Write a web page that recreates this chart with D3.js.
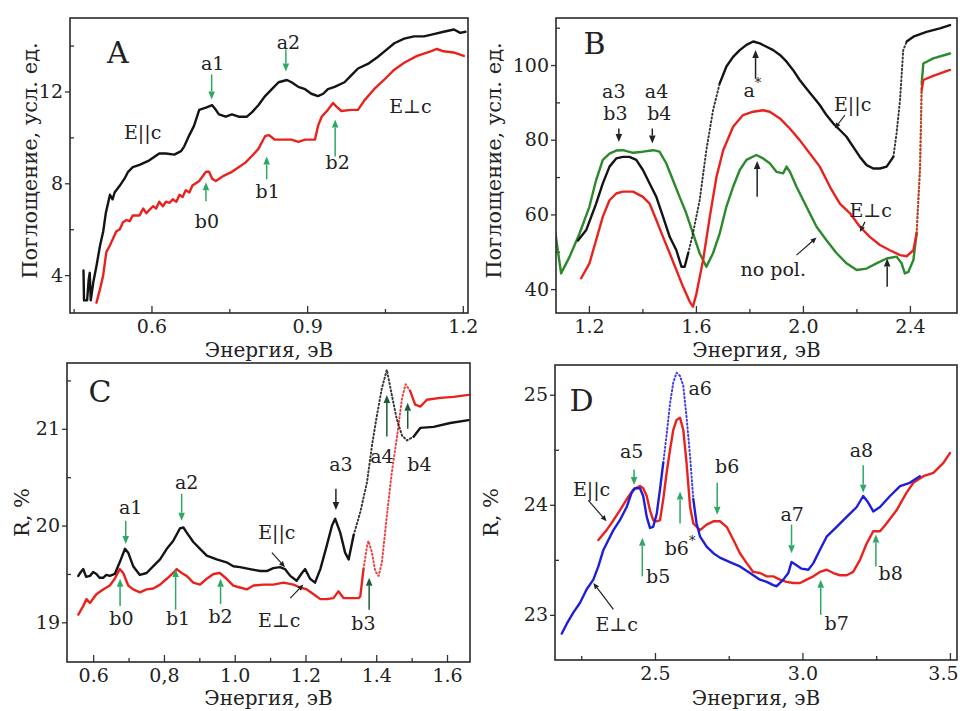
<!DOCTYPE html>
<html><head><meta charset="utf-8">
<script src="https://cdn.jsdelivr.net/npm/d3@7"></script>
<style>
body{margin:0;background:#fff}
svg{display:block}
svg text{font-family:"DejaVu Serif","Liberation Serif",serif;fill:#222}
</style>
</head><body>
<svg id="fig" width="960" height="711"></svg>
<script>
// ---------- Panel A: absorption, low energy ----------
const absA_par = [[0.469,4.2],[0.470,2.9],[0.476,2.9],[0.479,3.8],[0.481,4.1],[0.483,2.9],[0.488,3.7],[0.494,4.4],[0.501,5.3],[0.507,5.9],[0.512,6.7],[0.520,7.5],[0.525,7.3],[0.529,7.6],[0.539,7.9],[0.548,8.2],[0.555,8.5],[0.564,8.7],[0.577,8.8],[0.596,9.0],[0.615,9.3],[0.628,9.3],[0.644,9.25],[0.657,9.4],[0.663,9.6],[0.673,10.1],[0.682,10.5],[0.692,11.2],[0.705,11.3],[0.717,11.4],[0.724,11.2],[0.730,11.0],[0.743,10.9],[0.755,11.0],[0.768,10.9],[0.784,10.9],[0.794,11.1],[0.806,11.4],[0.819,11.8],[0.832,12.1],[0.845,12.4],[0.861,12.5],[0.870,12.4],[0.883,12.2],[0.896,12.1],[0.908,11.9],[0.921,11.8],[0.931,11.9],[0.940,12.1],[0.953,12.2],[0.972,12.4],[0.985,12.7],[0.998,13.0],[1.017,13.2],[1.036,13.5],[1.052,13.8],[1.068,14.1],[1.087,14.3],[1.106,14.4],[1.125,14.4],[1.144,14.5],[1.163,14.6],[1.183,14.7],[1.195,14.55],[1.205,14.6]];
const absA_perp = [[0.494,2.8],[0.501,3.4],[0.507,4.0],[0.513,5.0],[0.520,5.3],[0.526,5.6],[0.532,5.9],[0.539,6.0],[0.545,6.3],[0.552,6.4],[0.558,6.35],[0.564,6.6],[0.577,6.6],[0.584,6.9],[0.590,6.7],[0.603,7.0],[0.609,6.9],[0.615,7.2],[0.622,7.0],[0.628,7.2],[0.635,7.15],[0.641,7.3],[0.648,7.2],[0.654,7.5],[0.660,7.4],[0.666,7.7],[0.673,7.6],[0.679,7.9],[0.692,8.1],[0.705,8.5],[0.711,8.5],[0.717,8.2],[0.724,8.1],[0.737,8.3],[0.755,8.5],[0.768,8.7],[0.781,8.9],[0.794,9.2],[0.806,9.5],[0.819,10.05],[0.826,10.1],[0.838,9.9],[0.857,9.9],[0.870,9.9],[0.883,9.8],[0.896,9.9],[0.915,9.9],[0.921,10.5],[0.928,10.9],[0.940,11.2],[0.950,11.5],[0.956,11.35],[0.966,11.15],[0.985,11.2],[0.998,11.2],[1.010,11.6],[1.029,12.1],[1.048,12.5],[1.068,12.95],[1.087,13.25],[1.112,13.55],[1.138,13.75],[1.150,13.85],[1.163,13.75],[1.182,13.7],[1.202,13.55]];
const xTicksA = [0.6,0.9,1.2], xMinorA = [0.45,0.75,1.05];
const yTicksA = [4,8,12], yMinorA = [6,10,14];

// ---------- Panel B: absorption, high energy ----------
const absB_par = [[1.159,53],[1.190,55.8],[1.227,62.9],[1.252,68.3],[1.277,72.8],[1.302,75],[1.327,75.4],[1.352,75.4],[1.377,74.6],[1.402,71.9],[1.427,68.3],[1.452,64.7],[1.477,59.4],[1.502,54],[1.527,50.4],[1.546,46],[1.558,46],[1.571,49.6],[1.589,54.9],[1.614,63.8],[1.639,77.2],[1.664,87.9],[1.689,95.1],[1.714,99.6],[1.739,102.2],[1.764,104],[1.789,105.4],[1.814,106.3],[1.839,105.8],[1.864,104.9],[1.889,104],[1.914,102.7],[1.939,100.9],[1.963,98.7],[1.988,96],[2.013,93.75],[2.038,91.5],[2.063,89.3],[2.088,86.6],[2.113,84.4],[2.138,82.6],[2.163,80.8],[2.188,78.1],[2.213,75.4],[2.238,73.2],[2.263,72.3],[2.288,72.3],[2.313,72.8],[2.338,75.4],[2.350,81.7],[2.363,90.6],[2.375,104],[2.388,106.3],[2.413,107.6],[2.462,108.9],[2.512,109.8],[2.550,110.7]];
const absB_perp = [[1.171,42.9],[1.202,46.9],[1.227,53.1],[1.252,59.4],[1.277,63.8],[1.302,65.6],[1.327,66.1],[1.365,66.1],[1.402,64.7],[1.427,62.9],[1.452,58.5],[1.477,54],[1.502,49.6],[1.527,45.1],[1.552,40.6],[1.577,36.6],[1.589,35.3],[1.602,38.8],[1.627,47.8],[1.652,59.4],[1.677,70.1],[1.702,77.2],[1.739,83.5],[1.776,86.6],[1.814,87.5],[1.851,87.9],[1.876,87.5],[1.914,85.7],[1.951,83],[1.988,79.9],[2.026,76.3],[2.063,72.8],[2.101,67.4],[2.138,62.9],[2.176,60.3],[2.213,56.7],[2.250,54],[2.288,51.8],[2.325,50.4],[2.363,49.1],[2.388,48.8],[2.413,50.4],[2.425,54.9],[2.438,72.8],[2.444,93.3],[2.450,96],[2.487,97.1],[2.550,98.7]];
const absB_nopol = [[1.075,54.9],[1.096,44.2],[1.128,48.7],[1.165,54.9],[1.202,62.1],[1.227,69.2],[1.252,74.6],[1.277,76.3],[1.302,77.1],[1.327,77.2],[1.365,76.5],[1.402,76.8],[1.440,77.2],[1.464,76.8],[1.489,73.7],[1.514,69.2],[1.539,64.7],[1.564,60.3],[1.589,54.9],[1.614,49.6],[1.639,46.0],[1.664,49.6],[1.689,54.9],[1.714,62.1],[1.739,67.4],[1.764,71.9],[1.789,74.6],[1.826,75.9],[1.851,75.0],[1.876,73.7],[1.901,71.4],[1.926,71.0],[1.939,72.8],[1.951,71.5],[1.976,67.4],[2.013,62.1],[2.051,56.7],[2.088,53.1],[2.126,49.6],[2.163,46.9],[2.201,45.1],[2.238,45.5],[2.275,46.9],[2.313,48.2],[2.350,48.7],[2.369,46.9],[2.381,44.2],[2.394,44.6],[2.413,47.8],[2.425,54.9],[2.438,72.8],[2.444,95.1],[2.450,100.4],[2.487,101.8],[2.550,103.1]];
const xTicksB = [1.2,1.6,2.0,2.4], xMinorB = [1.4,1.8,2.2];
const yTicksB = [40,60,80,100], yMinorB = [50,70,90,110];

// ---------- Panel C: reflectance, low energy ----------
const reflC_par = [[0.558,19.48],[0.565,19.52],[0.572,19.55],[0.580,19.47],[0.591,19.48],[0.600,19.52],[0.609,19.50],[0.618,19.46],[0.628,19.46],[0.637,19.49],[0.647,19.48],[0.661,19.50],[0.675,19.62],[0.690,19.76],[0.699,19.72],[0.713,19.58],[0.732,19.49],[0.751,19.51],[0.770,19.58],[0.789,19.65],[0.808,19.76],[0.826,19.84],[0.845,19.97],[0.855,19.98],[0.864,19.93],[0.883,19.83],[0.902,19.76],[0.921,19.69],[0.949,19.65],[0.977,19.62],[0.996,19.58],[1.015,19.57],[1.043,19.55],[1.072,19.53],[1.091,19.53],[1.109,19.56],[1.128,19.57],[1.142,19.55],[1.157,19.48],[1.175,19.43],[1.190,19.51],[1.199,19.55],[1.213,19.45],[1.227,19.41],[1.242,19.55],[1.260,19.79],[1.275,20.0],[1.284,20.07],[1.298,19.93],[1.312,19.72],[1.322,19.65],[1.336,19.90],[1.355,20.14],[1.374,20.45],[1.388,20.83],[1.402,21.14],[1.416,21.42],[1.430,21.61],[1.444,21.35],[1.458,21.10],[1.473,20.93],[1.487,20.88],[1.506,20.92],[1.525,21.01],[1.562,21.02],[1.609,21.06],[1.661,21.09]];
const reflC_perp = [[0.558,19.08],[0.572,19.17],[0.581,19.24],[0.591,19.20],[0.609,19.29],[0.628,19.34],[0.647,19.38],[0.661,19.45],[0.675,19.55],[0.685,19.51],[0.699,19.38],[0.713,19.34],[0.732,19.31],[0.751,19.34],[0.770,19.35],[0.789,19.39],[0.808,19.45],[0.826,19.51],[0.836,19.55],[0.850,19.51],[0.864,19.48],[0.883,19.41],[0.902,19.39],[0.921,19.45],[0.940,19.50],[0.958,19.51],[0.977,19.45],[0.996,19.38],[1.015,19.36],[1.034,19.34],[1.053,19.38],[1.081,19.39],[1.109,19.39],[1.138,19.41],[1.166,19.39],[1.185,19.36],[1.204,19.34],[1.223,19.29],[1.242,19.24],[1.260,19.24],[1.279,19.25],[1.293,19.32],[1.308,19.25],[1.326,19.25],[1.350,19.25],[1.355,19.27],[1.364,19.55],[1.374,19.79],[1.378,19.84],[1.388,19.72],[1.397,19.53],[1.407,19.48],[1.416,19.62],[1.430,20.10],[1.444,20.55],[1.458,20.90],[1.473,21.32],[1.483,21.46],[1.496,21.39],[1.510,21.25],[1.525,21.23],[1.543,21.30],[1.581,21.32],[1.619,21.33],[1.661,21.35]];
const xTicksC = [0.6,0.8,1.0,1.2,1.4,1.6], xMinorC = [0.7,0.9,1.1,1.3,1.5];
const xTickLabelsC = ["0.6","0,8","1.0","1.2","1.4","1.6"];
const yTicksC = [19,20,21], yMinorC = [19.5,20.5,21.5];

// ---------- Panel D: reflectance, high energy ----------
const reflD_par = [[2.308,23.68],[2.336,23.77],[2.359,23.86],[2.381,23.95],[2.404,24.05],[2.427,24.14],[2.449,24.17],[2.460,24.15],[2.472,24.08],[2.483,23.95],[2.494,23.86],[2.506,23.85],[2.517,23.86],[2.528,24.05],[2.540,24.30],[2.551,24.50],[2.562,24.68],[2.573,24.77],[2.585,24.79],[2.596,24.68],[2.607,24.38],[2.619,23.98],[2.630,23.83],[2.653,23.77],[2.675,23.82],[2.698,23.85],[2.720,23.85],[2.743,23.80],[2.766,23.68],[2.788,23.56],[2.811,23.47],[2.833,23.39],[2.856,23.38],[2.879,23.35],[2.901,23.35],[2.924,23.32],[2.946,23.30],[2.969,23.29],[2.992,23.29],[3.014,23.32],[3.037,23.35],[3.059,23.39],[3.082,23.41],[3.105,23.38],[3.127,23.36],[3.150,23.36],[3.172,23.39],[3.195,23.50],[3.218,23.65],[3.240,23.76],[3.263,23.76],[3.285,23.83],[3.319,23.95],[3.353,24.11],[3.376,24.20],[3.410,24.26],[3.444,24.29],[3.478,24.38],[3.500,24.47]];
const reflD_perp = [[2.184,22.83],[2.201,22.92],[2.223,23.02],[2.246,23.11],[2.268,23.23],[2.291,23.32],[2.308,23.44],[2.325,23.59],[2.342,23.68],[2.359,23.77],[2.381,23.86],[2.404,23.98],[2.421,24.11],[2.432,24.15],[2.449,24.15],[2.460,24.08],[2.472,23.89],[2.483,23.79],[2.494,23.80],[2.506,23.92],[2.517,24.14],[2.528,24.38],[2.540,24.65],[2.551,24.92],[2.562,25.11],[2.573,25.20],[2.585,25.17],[2.596,25.08],[2.607,24.80],[2.619,24.44],[2.630,24.05],[2.641,23.83],[2.653,23.71],[2.675,23.62],[2.698,23.56],[2.720,23.52],[2.754,23.48],[2.788,23.44],[2.822,23.38],[2.856,23.32],[2.879,23.30],[2.901,23.27],[2.912,23.26],[2.924,23.29],[2.935,23.32],[2.952,23.38],[2.963,23.48],[2.980,23.45],[2.997,23.42],[3.020,23.41],[3.037,23.47],[3.059,23.59],[3.082,23.71],[3.116,23.80],[3.150,23.89],[3.184,23.98],[3.206,24.08],[3.223,24.02],[3.240,23.94],[3.263,23.98],[3.297,24.08],[3.331,24.17],[3.364,24.20],[3.398,24.26]];
const xTicksD = [2.5,3.0,3.5], xMinorD = [2.25,2.75,3.25];
const yTicksD = [23,24,25], yMinorD = [23.5,24.5];

// ---------- colours & lettering ----------
const C_BLACK = "#141414", C_RED = "#e8231e", C_GREEN = "#2c8a2c", C_BLUE = "#1f1fd8";
const C_ARR = "#2fa866", C_DARK = "#1d5c33", C_PTR = "#222";
const FONT = "DejaVu Serif, Liberation Serif, serif";

// ---------- panel layout and content ----------
const panels = [
  { box:[70,18,468,313], xd:[0.443,1.21], yd:[2.35,15.2], xt:xTicksA, xm:xMinorA, yt:yTicksA, ym:yMinorA,
    xlab:"Энергия, эВ", ylab:"Поглощение, усл. ед.", xlabY:350, ylabX:30, letter:["A",0.535,13.7],
    series:[
      {d:absA_par, c:C_BLACK, dot:[]},
      {d:absA_perp, c:C_RED, dot:[]}],
    arrows:[
      [0.716,12.74,11.65,C_ARR],[0.859,13.83,12.87,C_ARR],
      [0.705,7.22,8.04,C_ARR],[0.822,8.17,9.17,C_ARR],[0.954,9.17,10.78,C_ARR]],
    labels:[["a1",0.718,13.26],["a2",0.864,14.17],["b0",0.707,6.35],["b1",0.824,7.65],["b2",0.959,8.91],
            ["E||c",0.583,10.22],["E⊥c",1.099,11.35]],
    pointers:[] },
  { box:[556,18,957,313], xd:[1.077,2.576], yd:[33.6,112.6], xt:xTicksB, xm:xMinorB, yt:yTicksB, ym:yMinorB,
    xlab:"Энергия, эВ", ylab:"Поглощение, усл. ед.", xlabY:350, ylabX:494, letter:["B",1.221,105.8],
    series:[
      {d:absB_nopol, c:C_GREEN, dot:[[2.42,2.445]]},
      {d:absB_perp, c:C_RED, dot:[[2.42,2.445]]},
      {d:absB_par, c:C_BLACK, dot:[[1.58,1.70],[2.335,2.39]]}],
    arrows:[
      [1.312,83.0,79.4,C_PTR],[1.437,83.0,79.0,C_PTR],[1.823,96.4,104.0,C_PTR],
      [1.829,64.7,74.3,C_PTR],[2.315,40.6,48.2,C_PTR]],
    labels:[["a3",1.293,93.1],["b3",1.299,87.2],["a4",1.453,93.1],["b4",1.463,87.2],["a*",1.811,93.3],
            ["E||c",2.186,89.7],["E⊥c",2.253,61.2],["no pol.",1.889,45.3]],
    pointers:[[2.157,86.6,2.119,83.0],[2.232,58.0,2.213,55.3],[1.976,49.1,2.051,53.8]] },
  { box:[67,363,470,662], xd:[0.526,1.665], yd:[18.59,21.68], xt:xTicksC, xm:xMinorC, yt:yTicksC, ym:yMinorC,
    xtl:xTickLabelsC,
    xlab:"Энергия, эВ", ylab:"R, %", xlabY:698, ylabX:22, letter:["C",0.619,21.39],
    series:[
      {d:reflC_perp, c:C_RED, dot:[[1.36,1.49]]},
      {d:reflC_par, c:C_BLACK, dot:[[1.33,1.50]]}],
    arrows:[
      [0.692,20.05,19.81,C_ARR],[0.850,20.33,20.05,C_ARR],
      [0.676,19.17,19.45,C_ARR],[0.833,19.13,19.55,C_ARR],[0.960,19.19,19.45,C_ARR],
      [1.286,20.38,20.16,C_PTR],[1.430,20.92,21.35,C_DARK],[1.489,21.0,21.27,C_DARK],[1.380,19.13,19.46,C_DARK]],
    labels:[["a1",0.706,20.19],["a2",0.864,20.45],["b0",0.680,19.04],["b1",0.840,19.04],["b2",0.960,19.07],
            ["a3",1.300,20.64],["a4",1.416,20.72],["b4",1.522,20.64],["b3",1.364,18.99],
            ["E||c",1.119,19.93],["E⊥c",1.126,19.02]],
    pointers:[[1.105,19.72,1.142,19.57],[1.157,19.25,1.194,19.39]] },
  { box:[555,365,957,660], xd:[2.161,3.524], yd:[22.59,25.27], xt:xTicksD, xm:xMinorD, yt:yTicksD, ym:yMinorD,
    xlab:"Энергия, эВ", ylab:"R, %", xlabY:698, ylabX:491, letter:["D",2.251,24.95],
    series:[
      {d:reflD_par, c:C_RED, dot:[]},
      {d:reflD_perp, c:C_BLUE, dot:[[2.53,2.63]]}],
    arrows:[
      [2.429,24.32,24.18,C_ARR],[2.457,23.35,23.70,C_ARR],[2.711,24.20,23.91,C_ARR],[2.585,23.83,24.12,C_ARR],
      [2.963,23.82,23.56,C_ARR],[3.062,23.0,23.32,C_ARR],[3.206,24.36,24.11,C_ARR],[3.249,23.44,23.73,C_ARR]],
    labels:[["a5",2.421,24.49],["a6",2.653,25.06],["b5",2.511,23.35],["b6",2.745,24.35],["b6*",2.585,23.61],
            ["a7",2.965,23.92],["b7",3.116,22.93],["a8",3.200,24.5],["b8",3.299,23.38],
            ["E||c",2.285,24.14],["E⊥c",2.370,22.92]],
    pointers:[[2.274,24.04,2.336,23.85],[2.359,23.05,2.291,23.29]] }
];

const svg = d3.select("#fig");

function drawArrow(g, x1, y1, x2, y2, color, head = 8, hw = 3.3, w = 1.5) {
  const a = Math.atan2(y2 - y1, x2 - x1);
  const bx = x2 - head * Math.cos(a), by = y2 - head * Math.sin(a);
  g.append("line").attr("x1", x1).attr("y1", y1).attr("x2", bx).attr("y2", by)
    .attr("stroke", color).attr("stroke-width", w);
  g.append("path")
    .attr("d", `M${x2},${y2}L${bx + hw * Math.sin(a)},${by - hw * Math.cos(a)}L${bx - hw * Math.sin(a)},${by + hw * Math.cos(a)}Z`)
    .attr("fill", color);
}

// centred text
function label(g, x, y, str, size) {
  return g.append("text").attr("x", x).attr("y", y)
    .attr("text-anchor", "middle").attr("dominant-baseline", "central")
    .attr("font-family", FONT).attr("font-size", size).text(str);
}

// split a series into runs, flagging the sparse (dotted) stretches
function runs(data, dot) {
  const out = [];
  for (let i = 1; i < data.length; i++) {
    const m = (data[i - 1][0] + data[i][0]) / 2;
    const dotted = dot.some(r => m >= r[0] && m <= r[1]);
    const last = out[out.length - 1];
    if (last && last.dotted === dotted) last.pts.push(data[i]);
    else out.push({ dotted, pts: [data[i - 1], data[i]] });
  }
  return out;
}

panels.forEach((p, idx) => {
  const [x0, y0, x1, y1] = p.box;
  const x = d3.scaleLinear().domain(p.xd).range([x0, x1]);
  const y = d3.scaleLinear().domain(p.yd).range([y1, y0]);
  const g = svg.append("g");

  const clipId = "clip" + idx;
  svg.append("clipPath").attr("id", clipId).append("rect")
    .attr("x", x0).attr("y", y0).attr("width", x1 - x0).attr("height", y1 - y0);

  // axes: major ticks with labels, minor ticks inward
  const fmt = p.xtl ? (d, i) => p.xtl[i] : d3.format(".1f");
  const xAxisG = g.append("g").attr("transform", `translate(0,${y1})`)
    .call(d3.axisBottom(x).tickValues(p.xt).tickSize(-7).tickPadding(7).tickFormat(fmt));
  g.append("g").attr("transform", `translate(0,${y1})`)
    .call(d3.axisBottom(x).tickValues(p.xm).tickSize(-4).tickFormat(""));
  g.append("g").attr("transform", `translate(${x0},0)`)
    .call(d3.axisLeft(y).tickValues(p.yt).tickSize(5).tickPadding(2).tickFormat(d3.format("d")));
  g.append("g").attr("transform", `translate(${x0},0)`)
    .call(d3.axisLeft(y).tickValues(p.ym).tickSize(-4).tickFormat(""));
  g.selectAll(".domain").remove();
  g.selectAll(".tick line").attr("stroke", "#333").attr("stroke-width", 1.3);
  g.selectAll(".tick text").attr("font-size", 19).attr("font-family", FONT).attr("fill", "#222");
  // keep a label sitting on the right frame inside the page
  xAxisG.selectAll(".tick text").each(function () {
    const b = this.getBBox(), cx = x(d3.select(this.parentNode).datum());
    const over = cx + b.width / 2 - 958;
    if (over > 0) d3.select(this).attr("dx", -over);
  });

  // curves
  const line = d3.line().x(d => x(d[0])).y(d => y(d[1]));
  const cg = g.append("g").attr("clip-path", `url(#${clipId})`);
  p.series.forEach(s => {
    runs(s.d, s.dot).forEach(r => {
      cg.append("path").attr("d", line(r.pts)).attr("fill", "none")
        .attr("stroke", s.c).attr("stroke-width", r.dotted ? 2 : 2.4)
        .attr("stroke-linejoin", "round").attr("stroke-linecap", "round")
        .attr("stroke-dasharray", r.dotted ? "1.2,2.6" : null)
        .attr("opacity", r.dotted ? 0.85 : 1);
    });
  });

  // frame
  g.append("rect").attr("x", x0).attr("y", y0).attr("width", x1 - x0).attr("height", y1 - y0)
    .attr("fill", "none").attr("stroke", "#2a2a2a").attr("stroke-width", 1.6);

  // feature arrows
  p.arrows.forEach(a => drawArrow(g, x(a[0]), y(a[1]), x(a[0]), y(a[2]), a[3]));
  p.pointers.forEach(a => drawArrow(g, x(a[0]), y(a[1]), x(a[2]), y(a[3]), C_PTR, 6, 2.6, 1.2));

  // feature labels
  p.labels.forEach(l => {
    const star = l[0].endsWith("*");
    const t = label(g, x(l[1]), y(l[2]), star ? "" : l[0], 19);
    if (star) {
      t.append("tspan").text(l[0].slice(0, -1));
      t.append("tspan").text("*").attr("font-size", 13).attr("dy", -8);
    }
  });

  // panel letter
  label(g, x(p.letter[1]), y(p.letter[2]), p.letter[0], 30);

  // axis titles
  label(g, (x0 + x1) / 2, p.xlabY, p.xlab, 20);
  g.append("text")
    .attr("transform", `translate(${p.ylabX},${(y0 + y1) / 2 + (idx < 2 ? -5 : 0)}) rotate(-90)`)
    .attr("text-anchor", "middle").attr("dominant-baseline", "central")
    .attr("font-family", FONT).attr("font-size", 21).text(p.ylab);
});
</script>
</body></html>
